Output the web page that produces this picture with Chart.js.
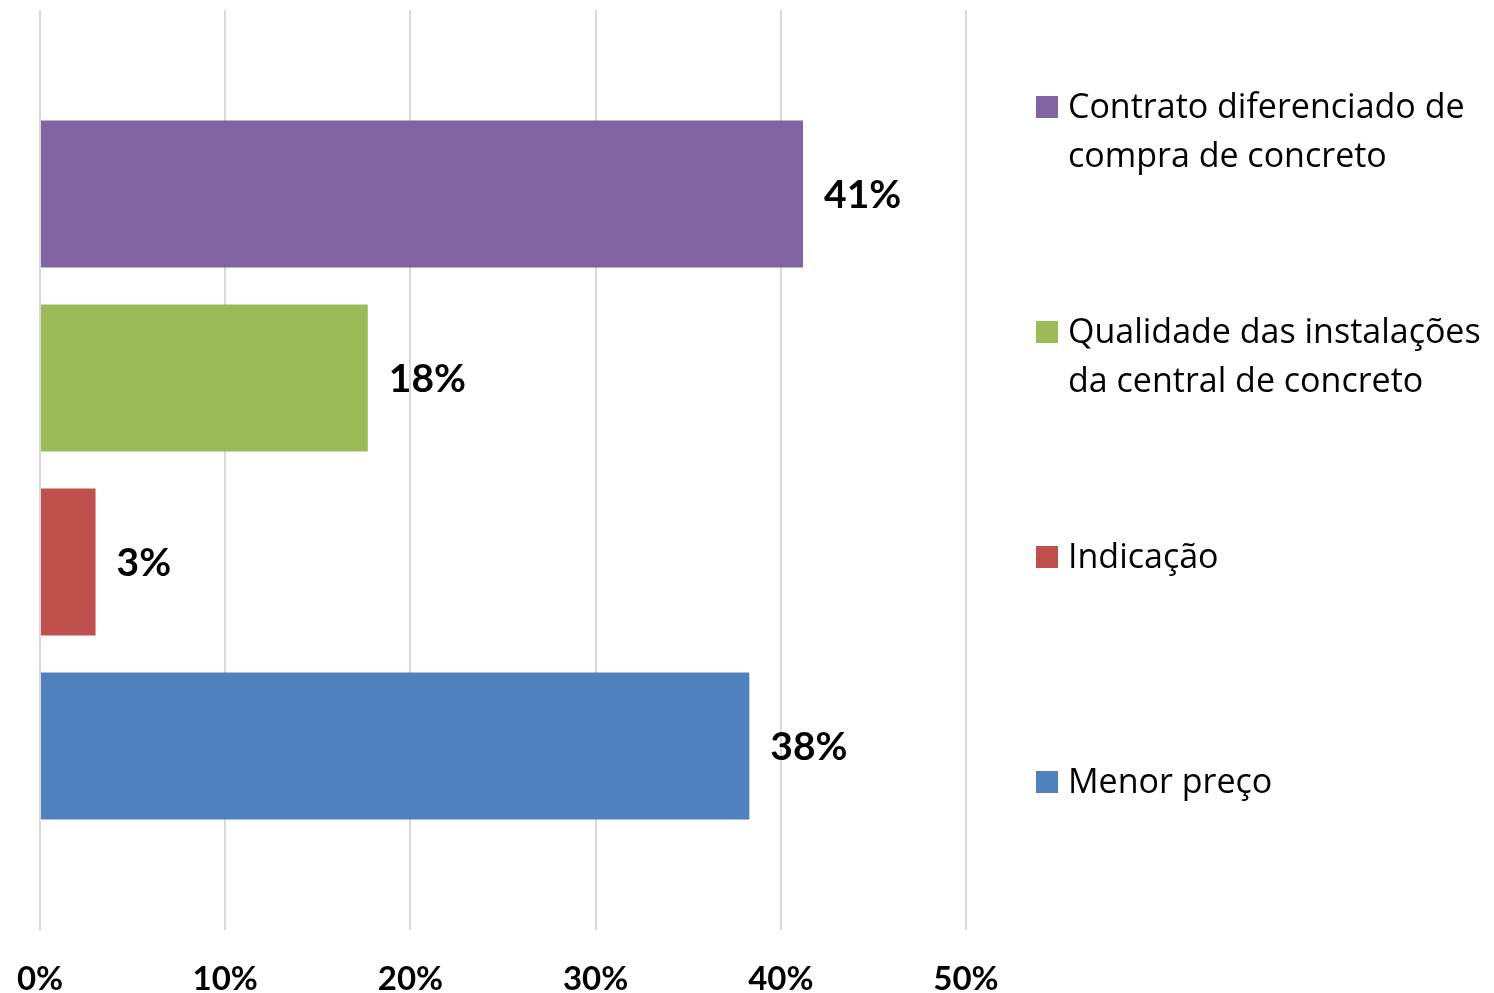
<!DOCTYPE html>
<html lang="pt">
<head>
    <title>Motivos de escolha</title>
    <script src="https://cdn.jsdelivr.net/npm/chart.js@4/dist/chart.umd.min.js"></script>
    <style>
        html, body { margin: 0; padding: 0; background: #fff; overflow: hidden; }
        .wrap { width: 1494px; height: 993px; position: relative; }
    </style>
</head>
<body>
    <div class="wrap"><canvas id="barChart"></canvas></div>

<script>
    /* Data (top bar first) */
    const categories = [
        'Contrato diferenciado de compra de concreto',
        'Qualidade das instalações da central de concreto',
        'Indicação',
        'Menor preço'
    ];
    const values = [41.2, 17.7, 3.0, 38.3];
    const barColors = ['#8064A2', '#9BBB59', '#C0504D', '#4F81BD'];
    const xTicks = [0, 10, 20, 30, 40, 50];

    Chart.defaults.font.family = 'Lato, "Open Sans", sans-serif';
    Chart.defaults.color = '#000';

    // empty slot above and below so the bars sit where the Excel chart puts them
    const slotLabels = [''].concat(categories, ['']);
    const slotValues = [null].concat(values, [null]);
    const slotColors = ['#fff'].concat(barColors, ['#fff']);

    /* percentage labels to the right of each bar */
    const valueLabels = {
        id: 'valueLabels',
        afterDatasetsDraw(chart) {
            const ctx = chart.ctx;
            const meta = chart.getDatasetMeta(0);
            ctx.save();
            ctx.font = 'bold 39px Lato';
            ctx.fillStyle = '#000';
            ctx.textAlign = 'left';
            ctx.textBaseline = 'middle';
            meta.data.forEach((bar, i) => {
                const v = slotValues[i];
                if (v == null) return;
                ctx.fillText(Math.round(v) + '%', bar.x + 21, bar.y + 1);
            });
            ctx.restore();
        }
    };

    function wrapText(ctx, text, maxWidth){
        const words = text.split(' ');
        const lines = [];
        let line = '';
        for(let w of words){
            const test = line ? line + ' ' + w : w;
            if(ctx.measureText(test).width > maxWidth && line){
                lines.push(line);
                line = w;
            } else {
                line = test;
            }
        }
        lines.push(line);
        return lines;
    }

    /* legend on the right, one entry per category */
    const sideLegend = {
        id: 'sideLegend',
        afterDraw(chart) {
            const ctx = chart.ctx;
            ctx.save();
            ctx.font = '34px "Open Sans"';
            ctx.textAlign = 'left';
            ctx.textBaseline = 'alphabetic';
            categories.forEach((name, i) => {
                const base = 118 + i * 225;
                ctx.fillStyle = barColors[i];
                ctx.fillRect(1036, base - 22, 22, 22);
                ctx.fillStyle = '#000';
                wrapText(ctx, name, 445).forEach((ln, j) => {
                    ctx.fillText(ln, 1068, base + j * 49);
                });
            });
            ctx.restore();
        }
    };

    const ctx = document.getElementById('barChart').getContext('2d');
    const chart = new Chart(ctx, {
        type: 'bar',
        data: {
            labels: slotLabels,
            datasets: [{
                data: slotValues,
                backgroundColor: slotColors,
                borderWidth: 0,
                barPercentage: 1,
                categoryPercentage: 0.8
            }]
        },
        options: {
            indexAxis: 'y',
            responsive: true,
            maintainAspectRatio: false,
            animation: false,
            events: [],
            layout: {
                padding: { top: 10, bottom: 0, left: 40, right: 528 }
            },
            plugins: {
                legend: { display: false },
                tooltip: { enabled: false }
            },
            scales: {
                x: {
                    min: xTicks[0],
                    max: xTicks[xTicks.length - 1],
                    afterBuildTicks: (axis) => { axis.ticks = xTicks.map(v => ({ value: v })); },
                    afterFit: (axis) => {
                        axis.height = 63;
                        axis.paddingLeft = 0;
                        axis.paddingRight = 0;
                    },
                    grid: { color: '#d9d9d9', lineWidth: 2, drawTicks: false },
                    border: { display: false },
                    ticks: {
                        padding: 33,
                        maxRotation: 0,
                        font: { size: 33, weight: 'bold', lineHeight: 1 },
                        callback: (v) => v + '%'
                    }
                },
                y: {
                    type: 'category',
                    offset: false,
                    display: false
                }
            }
        },
        plugins: [valueLabels, sideLegend]
    });
</script>
</body>
</html>
